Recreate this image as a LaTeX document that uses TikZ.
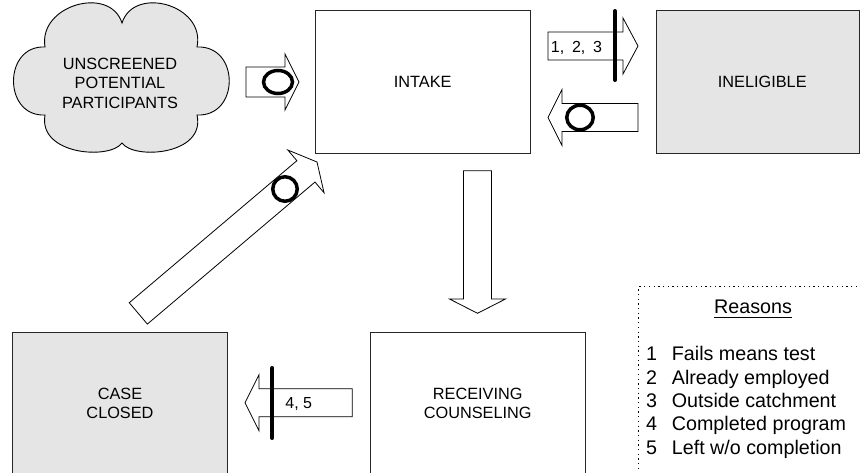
\documentclass[tikz,border=0pt]{standalone}
\usepackage{fontspec}
\setmainfont{Liberation Sans}
\usetikzlibrary{calc,shapes.geometric}
\newcommand\bas{14pt}
\newcommand\bak{14pt}
\newcommand\bah{28pt}
\tikzset{
  bas/.code={\def\bas{#1}},
  bak/.code={\def\bak{#1}},
  barrow/.style={draw=black, fill=white, line width=0.8pt, line join=miter,
    to path={($(\tikztostart)!\bas!90:(\tikztotarget)$)
      -- ($(\tikztotarget)!\bak!(\tikztostart)!\bas!-90:(\tikztostart)$)
      -- ($(\tikztotarget)!\bak!(\tikztostart)!\bah!-90:(\tikztostart)$)
      -- (\tikztotarget)
      -- ($(\tikztotarget)!\bak!(\tikztostart)!\bah!90:(\tikztostart)$)
      -- ($(\tikztotarget)!\bak!(\tikztostart)!\bas!90:(\tikztostart)$)
      -- ($(\tikztostart)!\bas!-90:(\tikztotarget)$) -- cycle}},
  box/.style={draw=black!85, line width=0.9pt, minimum width=215pt,
    minimum height=143pt, inner sep=0pt, align=center,
    font=\fontsize{16.3}{19.5}\selectfont},
  greyfill/.style={fill=black!10},
  ring/.style={ellipse, draw=black, line width=3.5pt, inner sep=0pt},
  bar/.style={line width=4pt, line cap=round},
  lbl/.style={inner sep=0pt, font=\fontsize{16}{19}\selectfont},
  rfont/.style={inner sep=0pt, font=\fontsize{19.7}{23.3}\selectfont},
  dotbox/.style={draw=black, line width=1.3pt, dash pattern=on 1.3pt off 3.4pt}
}
\begin{document}
\begin{tikzpicture}[x=1pt,y=-1pt]
\useasboundingbox (0,0) rectangle (860,472);
\fill[white] (0,0) rectangle (860,472);

% cloud
\draw[greyfill, draw=black, line width=0.9pt]
  (45,47) .. controls (38,5) and (110,-15) .. (122,23)
  .. controls (134,-15) and (206,5) .. (197,47)
  .. controls (240,45) and (240,117) .. (197,115)
  .. controls (206,155) and (134,160) .. (122,143)
  .. controls (110,160) and (38,155) .. (45,115)
  .. controls (3,117) and (3,45) .. (45,47) -- cycle;
\node[align=center, inner sep=0pt, font=\fontsize{16.3}{19.5}\selectfont] (cloud) at (120,83)
  {UNSCREENED\\POTENTIAL\\PARTICIPANTS};

% boxes
\node[box] (intake) at (422.75,81.5) {INTAKE};
\node[box, greyfill, minimum width=203.5pt] (inel) at (757.75,81.5) {\hspace*{9pt}INELIGIBLE};
\node[box, greyfill] (case) at (120,403.5) {CASE\\CLOSED};
\node[box] (recv) at (477.7,403.5) {RECEIVING\\COUNSELING};

% reasons frame
\node[dotbox, anchor=north west, minimum width=260pt, minimum height=220pt, inner sep=0pt] (rbox) at (638,286) {};

% arrow end points
\coordinate (a1s) at (246,82);     \coordinate (a1t) at (299,82);
\coordinate (a2s) at (548,46);     \coordinate (a2t) at (638,46);
\coordinate (a3s) at (638,117.5);  \coordinate (a3t) at (548,117.5);
\coordinate (a4s) at (477.5,170.7);\coordinate (a4t) at (477.5,313.3);
\coordinate (a5s) at (352.3,402.7);\coordinate (a5t) at (245,402.7);
\coordinate (a6s) at (138.3,313.4);\coordinate (a6t) at (317,162);

\draw[barrow, bas=15pt] (a1s) to (a1t);
\draw[barrow, bak=15pt] (a2s) to (a2t);
\draw[barrow] (a3s) to (a3t);
\draw[barrow, bak=14.3pt] (a4s) to (a4t);
\draw[barrow] (a5s) to (a5t);
\draw[barrow, bak=14.5pt] (a6s) to (a6t);

% rings
\node[ring, minimum width=29pt, minimum height=23pt] (r1) at (278,82) {};
\node[ring, minimum width=26.5pt, minimum height=24.5pt] (r2) at (580,117.5) {};
\node[ring, minimum width=24.5pt, minimum height=24.5pt] (r3) at (285,189) {};

% bars
\coordinate (b1a) at (615,11);    \coordinate (b1b) at (615,80);
\coordinate (b2a) at (272.3,368); \coordinate (b2b) at (272.3,438);
\draw[bar] (b1a) -- (b1b);
\draw[bar] (b2a) -- (b2b);

% arrow labels
\node[lbl, anchor=base] (l123) at (576.5,52.3) {1,\hspace{0.49em}2,\hspace{0.49em}3};
\node[lbl, anchor=base] (l45) at (298.7,408.3) {4, 5};

% reasons
\node[rfont, anchor=base] (rs) at (753,313.3) {Reasons};
\draw[line width=1.3pt] ($(rs.base west)+(0,4)$) -- ($(rs.base east)+(0,4)$);
\node[rfont, anchor=base west] (i1) at (646,360.7) {\makebox[25.7pt][l]{1}Fails means test};
\node[rfont, anchor=base west] (i2) at (646,384.0) {\makebox[25.7pt][l]{2}Already employed};
\node[rfont, anchor=base west] (i3) at (646,407.3) {\makebox[25.7pt][l]{3}Outside catchment};
\node[rfont, anchor=base west] (i4) at (646,430.7) {\makebox[25.7pt][l]{4}Completed program};
\node[rfont, anchor=base west] (i5) at (646,454.0) {\makebox[25.7pt][l]{5}Left w/o completion};
\end{tikzpicture}
\end{document}
